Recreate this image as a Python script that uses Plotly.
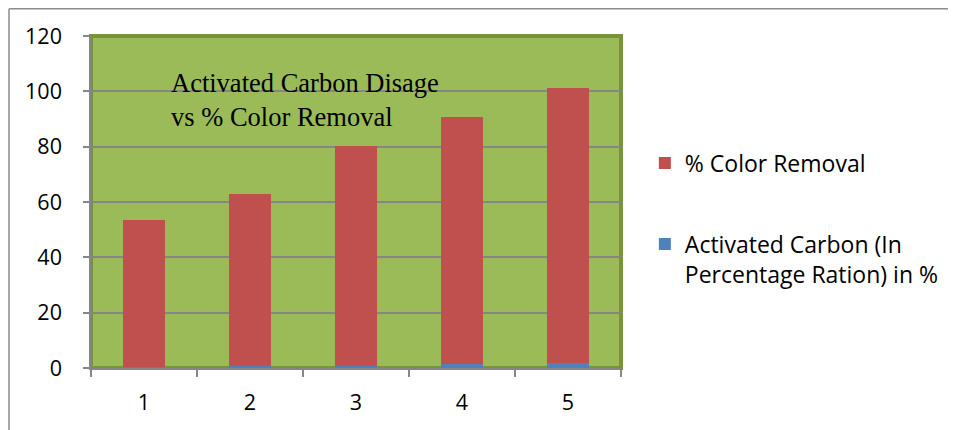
import plotly.graph_objects as go

categories = ["1", "2", "3", "4", "5"]
carbon = [0.2, 0.55, 0.9, 1.3, 1.8]
color_removal = [53.4, 62.5, 79.5, 89.3, 99.5]
y_ticks = [0, 20, 40, 60, 80, 100, 120]

# page is shown with an 8px body margin, so the figure is shrunk by 8px
W, H = 948, 422
L, T, PW, PH = 83, 28, 530, 332

fig = go.Figure()
fig.add_trace(go.Bar(
    x=categories, y=carbon, name="Activated Carbon (In<br>Percentage Ration) in %",
    marker=dict(color="#4F81BD", line=dict(width=0)), legendgroup="b", legendrank=2,
))
fig.add_trace(go.Bar(
    x=categories, y=color_removal, name="% Color Removal",
    marker=dict(color="#C0504D", line=dict(width=0)), legendgroup="a", legendrank=1,
))

fig.update_layout(
    width=W, height=H,
    margin=dict(l=L, r=W - L - PW, t=T, b=H - T - PH, autoexpand=False),
    barmode="stack", bargap=0.6,
    paper_bgcolor="white", plot_bgcolor="#9BBB59",
    font=dict(family="Open Sans, Noto Sans, sans-serif", size=21.5, color="#000000"),
    legend=dict(
        x=1.045, y=0.682, xanchor="left", yanchor="top",
        traceorder="grouped", tracegroupgap=48,
        valign="top", font=dict(size=23), itemwidth=30,
        bgcolor="rgba(0,0,0,0)",
    ),
    xaxis=dict(
        type="category", tickson="boundaries", ticks="outside", ticklen=7,
        tickcolor="#868686", tickwidth=1.5, showline=True, linecolor="#868686",
        linewidth=1.5, showgrid=False, ticklabelstandoff=14,
    ),
    yaxis=dict(
        range=[0, 120], tickvals=y_ticks, ticks="outside", ticklen=6,
        tickcolor="#868686", tickwidth=1.5, showline=True, linecolor="#868686",
        linewidth=1.5, gridcolor="#868686", gridwidth=1.5, zeroline=False,
        ticklabelstandoff=17,
    ),
    shapes=[
        dict(type="rect", xref="paper", yref="paper", x0=0, x1=1, y0=0, y1=1,
             line=dict(color="#77933C", width=4), fillcolor="rgba(0,0,0,0)",
             layer="below"),
        dict(type="line", xref="paper", yref="paper",
             x0=(1 - L) / PW, x1=(1 - L) / PW, y0=-2, y1=(T + PH - 0.75) / PH,
             line=dict(color="#8C8C8C", width=1.5)),
        dict(type="line", xref="paper", yref="paper",
             x0=(1 - L) / PW, x1=2, y0=(T + PH - 0.75) / PH, y1=(T + PH - 0.75) / PH,
             line=dict(color="#8C8C8C", width=1.5)),
    ],
    annotations=[
        dict(text="Activated Carbon Disage<br>vs % Color Removal",
             xref="paper", yref="paper", x=(161 - L) / PW, y=(T + PH - 57.7) / PH,
             xanchor="left", yanchor="top", align="left", showarrow=False,
             font=dict(family="Liberation Serif, Times New Roman, serif",
                       size=26.5, color="#000000")),
    ],
)

fig.write_html("out.html")
